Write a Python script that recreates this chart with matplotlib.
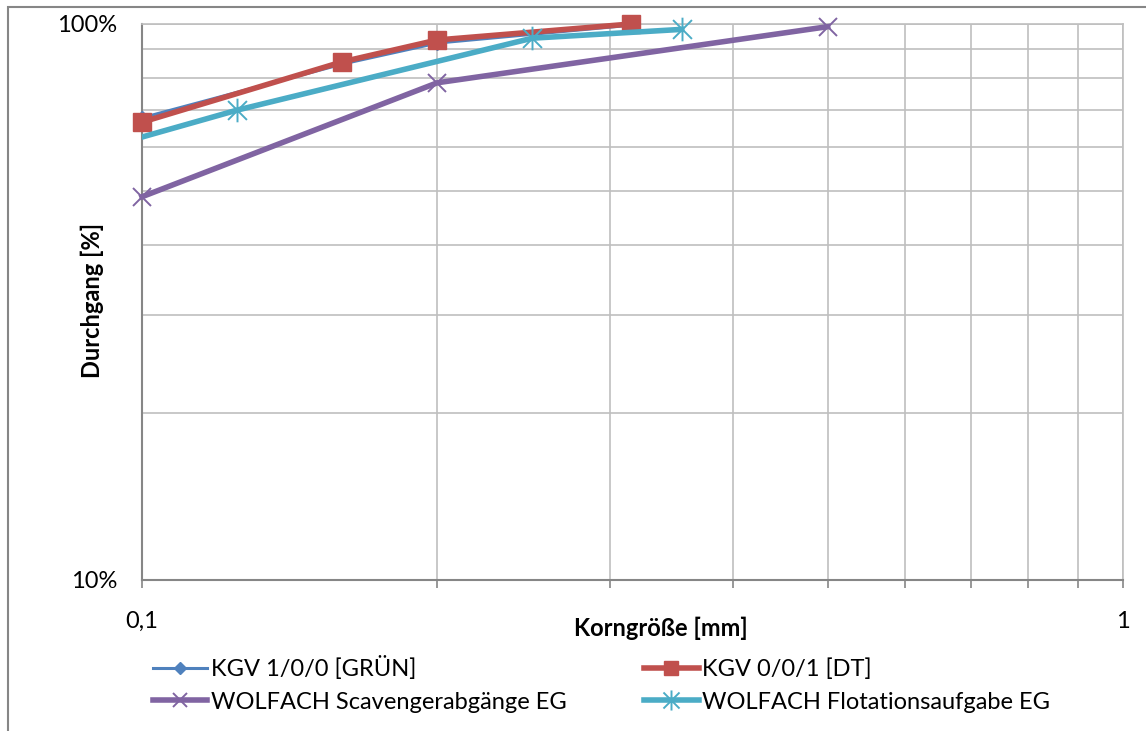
import matplotlib
matplotlib.use("Agg")
import matplotlib.pyplot as plt
from matplotlib.path import Path
from matplotlib.patches import Rectangle
from matplotlib.transforms import Bbox, TransformedBbox

# Sieve analysis: passing fraction vs. grain size
blue_x = [0.1, 0.16, 0.2, 0.315]
blue_y = [0.678, 0.847, 0.924, 0.995]

red_x = [0.1, 0.16, 0.2, 0.315]
red_y = [0.666, 0.855, 0.936, 1.0]

purple_x = [0.1, 0.2, 0.5]
purple_y = [0.489, 0.784, 0.989]

cyan_x = [0.09, 0.125, 0.25, 0.355]
cyan_y = [0.594, 0.70, 0.943, 0.978]

labels = [
    "KGV 1/0/0 [GRÜN]",
    "KGV 0/0/1 [DT]",
    "WOLFACH Scavengerabgänge EG",
    "WOLFACH Flotationsaufgabe EG",
]

x_major = [0.1, 1]
x_major_labels = ["0,1", "1"]
y_major = [0.1, 1]
y_major_labels = ["10%", "100%"]
minor = [0.2, 0.3, 0.4, 0.5, 0.6, 0.7, 0.8, 0.9]

plt.rcParams["font.family"] = ["Lato", "DejaVu Sans"]
FS = 17

# asterisk marker: X plus vertical stroke
star = Path(
    [(-1, -1), (1, 1), (-1, 1), (1, -1), (0, -1.25), (0, 1.25)],
    [Path.MOVETO, Path.LINETO, Path.MOVETO, Path.LINETO, Path.MOVETO, Path.LINETO],
)

fig = plt.figure(figsize=(11.46, 7.31), dpi=100)
ax = fig.add_axes([142 / 1146, 1 - 580 / 731, 981 / 1146, 556 / 731])

ax.set_xscale("log")
ax.set_yscale("log")
ax.set_xlim(0.1, 1)
ax.set_ylim(0.1, 1)

ax.set_xticks(x_major)
ax.set_xticklabels(x_major_labels)
ax.set_xticks(minor, minor=True)
ax.set_xticklabels([], minor=True)
ax.set_yticks(y_major)
ax.set_yticklabels(y_major_labels)
ax.set_yticks(minor, minor=True)
ax.set_yticklabels([], minor=True)

ax.grid(which="both", color="#BFBFBF", lw=1.2)
ax.set_axisbelow(True)
ax.tick_params(axis="x", which="both", direction="out", length=6, width=1.2,
               color="#868686", labelsize=FS, pad=16)
ax.tick_params(axis="y", which="both", length=0, labelsize=FS, pad=18)
for side in ["left", "bottom"]:
    ax.spines[side].set_color("#868686")
    ax.spines[side].set_linewidth(1.5)
for side in ["top", "right"]:
    ax.spines[side].set_color("#BFBFBF")
    ax.spines[side].set_linewidth(1.2)

l1, = ax.plot(blue_x, blue_y, color="#4F81BD", lw=2.2, marker="D", ms=7,
              clip_on=False, zorder=3)
l2, = ax.plot(red_x, red_y, color="#C0504D", lw=4, marker="s", ms=12.5,
              clip_on=False, zorder=4)
l3, = ax.plot(purple_x, purple_y, color="#8064A2", lw=4, marker="x", ms=12.5,
              mew=1.4, clip_on=False, zorder=5)
l4, = ax.plot(cyan_x, cyan_y, color="#4BACC6", lw=4, marker=star, ms=17,
              mew=1.4, zorder=6)
# clip only at the left/bottom so the top marker stays whole
l4.set_clip_box(TransformedBbox(Bbox([[0, 0], [1.2, 1.2]]), ax.transAxes))

fig.text(661 / 1146, 1 - 628 / 731, "Korngröße [mm]", fontsize=FS,
         fontweight="bold", ha="center", va="center")
fig.text(92 / 1146, 1 - 300 / 731, "Durchgang [%]", fontsize=FS,
         fontweight="bold", ha="center", va="center", rotation=90)

fig.legend([l1, l3, l2, l4], [labels[0], labels[2], labels[1], labels[3]],
           ncol=2, loc="upper left", bbox_to_anchor=(141 / 1146, 1 - 644 / 731),
           frameon=False, fontsize=FS, borderpad=0, handlelength=2.3,
           handletextpad=0.15, columnspacing=3.3, labelspacing=0.5,
           markerscale=0.85)

# outer chart frame
fig.patches.append(Rectangle((8 / 1146, -0.1), 1.2, 1.1 - 7 / 731,
                             transform=fig.transFigure, fill=False,
                             edgecolor="#868686", lw=1.5))

fig.savefig("out.png", dpi=100)
